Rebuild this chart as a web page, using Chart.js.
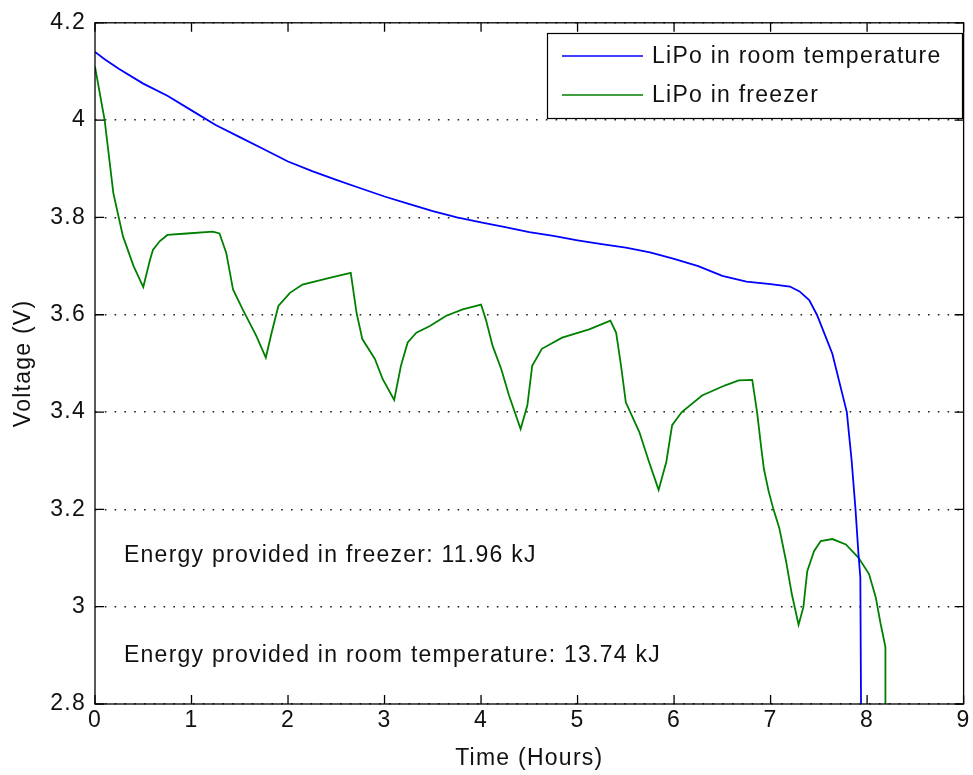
<!DOCTYPE html>
<html>
<head>
<meta charset="utf-8">
<script src="https://cdn.jsdelivr.net/npm/chart.js@4.4.0/dist/chart.umd.min.js"></script>
<style>
  body { margin: 0; background: #fff; }
  canvas { display: block; }
</style>
</head>
<body>
<canvas id="grafica" width="973" height="775"></canvas>
<script>
// datos
const roomTime = [0, 0.1, 0.25, 0.5, 0.75, 1.0, 1.25, 1.5, 1.75, 2.0, 2.25, 2.5, 2.75, 3.0, 3.25, 3.5, 3.75, 4.0, 4.25, 4.5, 4.75, 5.0, 5.25, 5.5, 5.75, 6.0, 6.25, 6.5, 6.75, 7.0, 7.2, 7.3, 7.4, 7.48, 7.56, 7.64, 7.74, 7.79, 7.84, 7.88, 7.91, 7.93, 7.94];
const roomVolt = [4.14, 4.125, 4.105, 4.075, 4.05, 4.02, 3.99, 3.965, 3.94, 3.915, 3.895, 3.877, 3.86, 3.843, 3.828, 3.813, 3.80, 3.79, 3.78, 3.77, 3.762, 3.753, 3.745, 3.738, 3.728, 3.715, 3.70, 3.68, 3.668, 3.663, 3.658, 3.648, 3.63, 3.60, 3.56, 3.52, 3.44, 3.40, 3.30, 3.20, 3.11, 3.06, 2.7];

const freezerTime = [0, 0.1, 0.19, 0.29, 0.4, 0.5, 0.57, 0.6, 0.67, 0.75, 0.95, 1.22, 1.29, 1.36, 1.43, 1.53, 1.67, 1.77, 1.83, 1.90, 2.02, 2.15, 2.43, 2.65, 2.71, 2.77, 2.9, 2.98, 3.10, 3.17, 3.24, 3.33, 3.47, 3.64, 3.81, 4.0, 4.05, 4.12, 4.21, 4.29, 4.41, 4.48, 4.53, 4.63, 4.84, 5.12, 5.34, 5.40, 5.45, 5.5, 5.64, 5.74, 5.84, 5.92, 5.98, 6.08, 6.29, 6.53, 6.67, 6.81, 6.86, 6.9, 6.93, 6.98, 7.03, 7.09, 7.16, 7.22, 7.29, 7.34, 7.38, 7.45, 7.52, 7.64, 7.78, 7.91, 8.02, 8.09, 8.14, 8.19, 8.19];
const freezerVolt = [4.11, 4.0, 3.85, 3.761, 3.70, 3.657, 3.713, 3.733, 3.751, 3.764, 3.767, 3.771, 3.767, 3.727, 3.652, 3.611, 3.557, 3.512, 3.563, 3.618, 3.645, 3.662, 3.676, 3.686, 3.604, 3.55, 3.509, 3.468, 3.425, 3.495, 3.543, 3.563, 3.577, 3.598, 3.611, 3.621, 3.59, 3.536, 3.488, 3.434, 3.365, 3.414, 3.495, 3.53, 3.553, 3.57, 3.588, 3.563, 3.496, 3.42, 3.359, 3.298, 3.24, 3.298, 3.373, 3.40, 3.434, 3.455, 3.465, 3.466, 3.40, 3.332, 3.284, 3.237, 3.2, 3.162, 3.094, 3.026, 2.963, 2.999, 3.073, 3.114, 3.135, 3.139, 3.128, 3.101, 3.067, 3.019, 2.965, 2.917, 2.7];

const seriesLabels = ['LiPo in room temperature', 'LiPo in freezer'];
const xTicks = [0, 1, 2, 3, 4, 5, 6, 7, 8, 9];
const yTicks = [2.8, 3.0, 3.2, 3.4, 3.6, 3.8, 4.0, 4.2];
const notas = [
    { x: 0.3, y: 3.104, text: 'Energy provided in freezer: 11.96 kJ' },
    { x: 0.3, y: 2.9, text: 'Energy provided in room temperature: 13.74 kJ' }
];

const FUENTE = '"Liberation Sans", Arial, sans-serif';
const ESPACIADO = '1.25px';

function toPoints(xs, ys) {
    return xs.map((x, i) => ({ x: x, y: ys[i] }));
}

// marco con marcas hacia dentro (estilo matlab)
const marcoPlugin = {
    id: 'marco',
    beforeDraw(chart) {
        chart.ctx.letterSpacing = ESPACIADO;
    },
    afterDatasetsDraw(chart) {
        const ctx = chart.ctx;
        const a = chart.chartArea;
        const sx = chart.scales.x;
        const sy = chart.scales.y;
        ctx.save();
        ctx.letterSpacing = ESPACIADO;
        ctx.strokeStyle = '#000';
        ctx.lineWidth = 1.3;
        ctx.strokeRect(a.left, a.top, a.right - a.left, a.bottom - a.top);
        ctx.beginPath();
        xTicks.forEach(v => {
            const px = sx.getPixelForValue(v);
            ctx.moveTo(px, a.bottom); ctx.lineTo(px, a.bottom - 9);
            ctx.moveTo(px, a.top); ctx.lineTo(px, a.top + 9);
        });
        yTicks.forEach(v => {
            const py = sy.getPixelForValue(v);
            ctx.moveTo(a.left, py); ctx.lineTo(a.left + 9, py);
            ctx.moveTo(a.right, py); ctx.lineTo(a.right - 9, py);
        });
        ctx.stroke();

        // textos de energia
        ctx.fillStyle = '#111';
        ctx.font = '23px ' + FUENTE;
        ctx.textAlign = 'left';
        ctx.textBaseline = 'middle';
        notas.forEach(n => {
            ctx.fillText(n.text, sx.getPixelForValue(n.x), sy.getPixelForValue(n.y));
        });

        // leyenda dentro del grafico
        const bx = 547, by = 33, bw = 415, bh = 85;
        ctx.fillStyle = '#fff';
        ctx.fillRect(bx, by, bw, bh);
        ctx.lineWidth = 1.2;
        ctx.strokeRect(bx + 0.5, by + 0.5, bw, bh);
        chart.data.datasets.forEach((ds, i) => {
            const yy = by + 23 + i * 39;
            ctx.strokeStyle = ds.borderColor;
            ctx.lineWidth = 1.6;
            ctx.beginPath();
            ctx.moveTo(bx + 15, yy);
            ctx.lineTo(bx + 96, yy);
            ctx.stroke();
            ctx.fillStyle = '#111';
            ctx.fillText(ds.label, bx + 105, yy + 1);
        });
        ctx.restore();
    }
};

const datos = {
    datasets: [{
        label: seriesLabels[0],
        data: toPoints(roomTime, roomVolt),
        borderColor: '#0000ff',
        borderWidth: 1.8,
        pointRadius: 0,
        tension: 0,
        fill: false
    }, {
        label: seriesLabels[1],
        data: toPoints(freezerTime, freezerVolt),
        borderColor: '#008000',
        borderWidth: 1.8,
        pointRadius: 0,
        tension: 0,
        fill: false
    }]
};

const opciones = {
    responsive: false,
    animation: false,
    layout: { padding: { top: 18, right: 8, left: 0, bottom: 0 } },
    plugins: {
        legend: { display: false },
        tooltip: { enabled: false }
    },
    scales: {
        x: {
            type: 'linear',
            min: 0,
            max: 9,
            afterFit(scale) { scale.height = 71; },
            afterBuildTicks(scale) { scale.ticks = xTicks.map(v => ({ value: v })); },
            grid: { display: false, drawTicks: false },
            border: { display: false },
            ticks: {
                color: '#111',
                padding: 3,
                font: { family: FUENTE, size: 23 },
                maxRotation: 0
            },
            title: {
                display: true,
                text: 'Time (Hours)',
                color: '#111',
                padding: { top: 0, bottom: 3 },
                font: { family: FUENTE, size: 23 }
            }
        },
        y: {
            type: 'linear',
            min: 2.8,
            max: 4.2,
            afterFit(scale) { scale.width = 95; },
            afterBuildTicks(scale) { scale.ticks = yTicks.map(v => ({ value: v })); },
            grid: {
                color: '#222',
                lineWidth: 1.6,
                drawTicks: false
            },
            border: { display: false, dash: [1.6, 8.2] },
            ticks: {
                color: '#111',
                padding: 9,
                font: { family: FUENTE, size: 23 },
                callback: v => String(Math.round(v * 10) / 10)
            },
            title: {
                display: true,
                text: 'Voltage (V)',
                color: '#111',
                padding: { top: 10, bottom: 0 },
                font: { family: FUENTE, size: 23 }
            }
        }
    }
};

new Chart(document.getElementById('grafica'), {
    type: 'line',
    data: datos,
    options: opciones,
    plugins: [marcoPlugin]
});
</script>
</body>
</html>
